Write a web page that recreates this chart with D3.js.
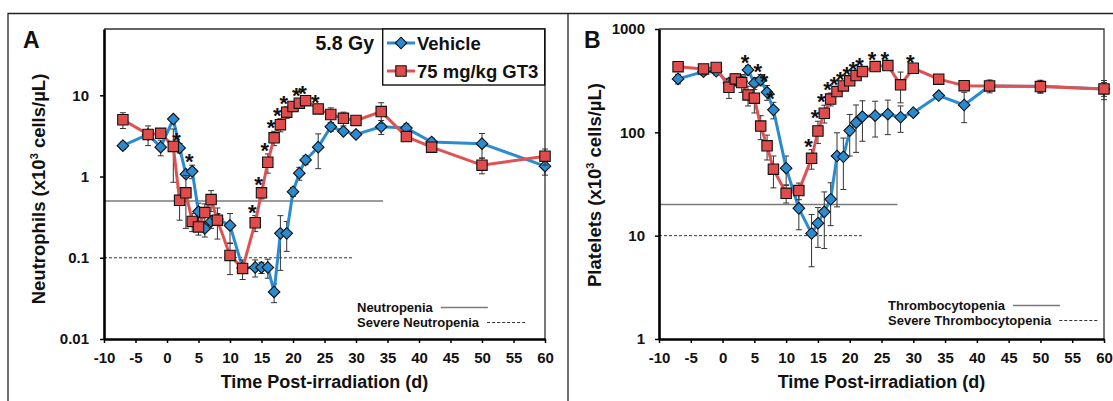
<!DOCTYPE html>
<html>
<head>
<meta charset="utf-8">
<script src="https://cdn.jsdelivr.net/npm/d3@7"></script>
<style>
  body { margin: 0; background: #fff; }
  text { font-family: Arial, "Liberation Sans", sans-serif; font-weight: bold; fill: #111; }
</style>
</head>
<body>
<div id="chart"></div>
<script>
///////////////////////////////////////////////////////////////////////////
// Datos
///////////////////////////////////////////////////////////////////////////
const days = [-7, -3, -1, 1, 2, 3, 4, 5, 6, 7, 8, 10, 12, 14, 15, 16, 17, 18, 19, 20, 21, 22, 24, 26, 28, 30, 34, 38, 42, 50, 60];
const xTicks = [-10, -5, 0, 5, 10, 15, 20, 25, 30, 35, 40, 45, 50, 55, 60];

// Panel A - neutrofilos
const neutVehicle = [2.4, 3.3, 2.3, 5.1, 2.25, 1.07, 1.16, 0.37, 0.23, 0.28, 0.3, 0.25, 0.075, 0.076, 0.076, 0.076, 0.038, 0.2, 0.2, 0.65, 1.1, 1.6, 2.3, 4.1, 3.6, 3.3, 4.1, 3.95, 2.66, 2.54, 1.34];
const neutVehicleErr = [0.25, 0.3, 0.5, 0.4, 0.3, 0.1, 0.22, 0.1, 0.05, 0.05, 0.05, 0.1, 0.01, 0.018, 0.012, 0.02, 0.01, 0.13, 0.08, 0.08, 0.2, 0.2, 1.05, 0.5, 0.3, 0.3, 0.8, 0.5, 0.3, 0.85, 0.3];
const neutGT3 = [5.0, 3.3, 3.4, 2.35, 0.51, 0.63, 0.28, 0.24, 0.36, 0.52, 0.29, 0.107, 0.074, 0.27, 0.63, 1.5, 3.0, 4.35, 6.2, 7.3, 8.0, 8.6, 6.8, 5.8, 5.2, 4.9, 6.3, 3.1, 2.3, 1.38, 1.78];
const neutGT3Err = [1.1, 0.9, 0.3, 1.5, 0.22, 0.4, 0.07, 0.05, 0.1, 0.15, 0.12, 0.045, 0.02, 0.06, 0.1, 0.4, 0.6, 0.8, 1, 1, 1, 0.8, 0.6, 1.2, 1.0, 0.5, 1.8, 0.3, 0.3, 0.3, 0.4];
const neutStarsVehicle = [2, 4];
const neutStarsGT3 = [14, 15, 16, 17, 18, 19, 21, 22, 24];
const neutYTicks = [0.01, 0.1, 1, 10];
const neutThresholds = [0.5, 0.1];
const neutThresholdEnd = [34.3, 29.5];
const neutThresholdNames = ["Neutropenia", "Severe Neutropenia"];

// Panel B - plaquetas
const platVehicle = [329, 387, 390, 300, 320, 310, 402, 299, 322, 244, 165, 45, 18.4, 10.5, 13.2, 17, 22.5, 59, 58, 104, 124, 142, 145, 150, 140, 155, 227, 184, 281, 279, 262];
const platVehicleErr = [35, 30, 30, 30, 30, 30, 40, 40, 40, 40, 30, 14, 7, 5.5, 5.5, 9.5, 10, 40, 30, 45, 60, 60, 55, 55, 40, 10, 15, 60, 40, 40, 55];
const platGT3 = [432, 411, 424, 273, 329, 303, 230, 214, 115, 74, 44, 25.7, 27.3, 56, 103, 153, 210, 248, 281, 315, 354, 387, 433, 443, 288, 417, 327, 283, 281, 277, 263];
const platGT3Err = [40, 40, 40, 60, 40, 60, 50, 60, 30, 20, 15, 5, 5, 12, 25, 30, 30, 20, 20, 20, 20, 20, 40, 30, 95, 20, 20, 15, 20, 35, 40];
const platStarsVehicle = [4, 6, 7, 8];
const platStarsGT3 = [14, 15, 16, 17, 18, 19, 20, 21, 22, 24, 26, 30];
const platYTicks = [1, 10, 100, 1000];
const platThresholds = [20, 10];
const platThresholdEnd = [27.5, 21.9];
const platThresholdNames = ["Thrombocytopenia", "Severe Thrombocytopenia"];

const seriesNames = ["Vehicle", "75 mg/kg GT3"];

///////////////////////////////////////////////////////////////////////////
// Estilo
///////////////////////////////////////////////////////////////////////////
const blue = "#2a8bd0";
const red = "#e05252";
const redFill = "#e04c4c";

const svg = d3.select("#chart")
  .append("svg")
  .attr("width", 1113)
  .attr("height", 401)
  .style("background-color", "#fff");

// Marco exterior
svg.append("path")
  .attr("d", "M8,401 V13.5 H1113 M568,13.5 V401")
  .attr("fill", "none")
  .attr("stroke", "#222")
  .attr("stroke-width", 1.3);

function diamond(s) {
  return `M0,${-s} L${s},0 L0,${s} L${-s},0 Z`;
}

function drawSeries(g, x, y, vals, errs, kind) {
  const yMin = y.domain()[0];
  // barras de error
  const eb = g.append("g");
  days.forEach((d, i) => {
    const lo = Math.max(vals[i] - errs[i], yMin);
    const hi = vals[i] + errs[i];
    const cx = x(d);
    eb.append("line").attr("x1", cx).attr("x2", cx).attr("y1", y(lo)).attr("y2", y(hi));
    eb.append("line").attr("x1", cx - 3).attr("x2", cx + 3).attr("y1", y(lo)).attr("y2", y(lo));
    eb.append("line").attr("x1", cx - 3).attr("x2", cx + 3).attr("y1", y(hi)).attr("y2", y(hi));
  });
  eb.selectAll("line").attr("stroke", "#333").attr("stroke-width", 1);

  const line = d3.line().x((d, i) => x(days[i])).y(d => y(d));
  g.append("path")
    .datum(vals)
    .attr("d", line)
    .attr("fill", "none")
    .attr("stroke", kind === "diamond" ? blue : red)
    .attr("stroke-width", 3)
    .attr("stroke-linejoin", "round");

  const marks = g.append("g").selectAll("path")
    .data(vals)
    .join("path")
    .attr("transform", (d, i) => `translate(${x(days[i])},${y(d)})`)
    .attr("stroke", "#111")
    .attr("stroke-width", 1.1);
  if (kind === "diamond") {
    marks.attr("d", diamond(5.8)).attr("fill", blue);
  } else {
    marks.attr("d", "M-5.2,-5.2 H5.2 V5.2 H-5.2 Z").attr("fill", redFill);
  }
}

function drawStars(g, x, y, vals, errs, starDays) {
  starDays.forEach(d => {
    const i = days.indexOf(d);
    g.append("text")
      .attr("x", x(d) - 3)
      .attr("y", y(vals[i] + errs[i]) + 4)
      .attr("text-anchor", "middle")
      .attr("font-size", "22px")
      .text("*");
  });
}

function drawPanel(p) {
  const g = svg.append("g");
  const x = d3.scaleLinear().domain([-10, 60]).range([p.left, p.right]);
  const y = d3.scaleLog().domain(p.yDomain).range([p.bottom, p.top]);

  // marco del grafico (arriba / derecha)
  g.append("path")
    .attr("d", `M${p.left},${p.top} H${p.right} V${p.bottom}`)
    .attr("fill", "none")
    .attr("stroke", "#333")
    .attr("stroke-width", 1.3);

  // lineas de umbral
  p.thresholds.forEach((t, i) => {
    g.append("line")
      .attr("x1", p.left).attr("x2", x(p.thresholdEnd[i]))
      .attr("y1", y(t)).attr("y2", y(t))
      .attr("stroke", i === 0 ? "#7a7a7a" : "#333")
      .attr("stroke-width", i === 0 ? 1.5 : 1)
      .attr("stroke-dasharray", i === 0 ? null : "3,2");
  });

  // ejes
  const xAxis = g.append("g")
    .attr("transform", `translate(0,${p.bottom})`)
    .call(d3.axisBottom(x).tickValues(xTicks).tickFormat(d => String(d)).tickSize(4).tickSizeOuter(0).tickPadding(9.5));
  const yAxis = g.append("g")
    .attr("transform", `translate(${p.left},0)`)
    .call(d3.axisLeft(y).tickValues(p.yTicks).tickFormat(p.yFormat).tickSize(4).tickSizeOuter(0).tickPadding(p.yPad));
  [xAxis, yAxis].forEach(a => {
    a.select(".domain").attr("stroke", "#000").attr("stroke-width", 2.6);
    a.selectAll(".tick line").attr("stroke", "#000").attr("stroke-width", 1.5);
    a.selectAll("text").attr("font-size", "15px").attr("font-family", "Arial, 'Liberation Sans', sans-serif").attr("fill", "#111");
  });

  // series
  drawSeries(g, x, y, p.vehicle, p.vehicleErr, "diamond");
  drawSeries(g, x, y, p.gt3, p.gt3Err, "square");
  drawStars(g, x, y, p.vehicle, p.vehicleErr, p.starsVehicle);
  drawStars(g, x, y, p.gt3, p.gt3Err, p.starsGT3);

  // leyenda de umbrales
  p.thresholdNames.forEach((name, i) => {
    const ty = p.legY + i * 15;
    const t = g.append("text")
      .attr("x", p.legX)
      .attr("y", ty)
      .attr("font-size", "13px")
      .text(name);
    const w = t.node().getComputedTextLength();
    g.append("line")
      .attr("x1", p.legX + w + 8).attr("x2", p.legX + w + (i === 0 ? 55 : 46))
      .attr("y1", ty - 4.5).attr("y2", ty - 4.5)
      .attr("stroke", i === 0 ? "#7a7a7a" : "#333")
      .attr("stroke-width", i === 0 ? 1.5 : 1)
      .attr("stroke-dasharray", i === 0 ? null : "3,2");
  });

  // letra del panel
  g.append("text")
    .attr("x", p.letterX)
    .attr("y", 48)
    .attr("font-size", "23px")
    .text(p.letter);

  // titulo eje y
  const yt = g.append("text")
    .attr("transform", `translate(${p.yTitleX},${p.yTitleY}) rotate(-90)`)
    .attr("text-anchor", "middle")
    .attr("font-size", "18.5px");
  yt.append("tspan").text(p.yTitle + " (x10");
  yt.append("tspan").attr("font-size", "11px").attr("dy", -7).text("3");
  yt.append("tspan").attr("dy", 7).text(" cells/µL)");

  // titulo eje x
  g.append("text")
    .attr("x", (p.left + p.right) / 2)
    .attr("y", 388)
    .attr("text-anchor", "middle")
    .attr("font-size", "18px")
    .text("Time Post-irradiation (d)");

  return { g, x, y };
}

///////////////////////////////////////////////////////////////////////////
// Panel A
///////////////////////////////////////////////////////////////////////////
const panelA = drawPanel({
  left: 104, right: 545, top: 29, bottom: 339,
  yDomain: [0.01, 65.5], yTicks: neutYTicks, yFormat: d => String(d), yPad: 11,
  vehicle: neutVehicle, vehicleErr: neutVehicleErr,
  gt3: neutGT3, gt3Err: neutGT3Err,
  starsVehicle: neutStarsVehicle, starsGT3: neutStarsGT3,
  thresholds: neutThresholds, thresholdEnd: neutThresholdEnd, thresholdNames: neutThresholdNames,
  legX: 357, legY: 312,
  letter: "A", letterX: 23,
  yTitle: "Neutrophils", yTitleX: 45, yTitleY: 189
});

// Caja de leyenda y dosis
const legG = panelA.g.append("g");
legG.append("rect")
  .attr("x", 382.7).attr("y", 29)
  .attr("width", 162).attr("height", 56)
  .attr("fill", "#fff")
  .attr("stroke", "#111")
  .attr("stroke-width", 1.4);
seriesNames.forEach((name, i) => {
  const ly = 43 + i * 28;
  legG.append("line")
    .attr("x1", 387).attr("x2", 415).attr("y1", ly).attr("y2", ly)
    .attr("stroke", i === 0 ? blue : red).attr("stroke-width", 3);
  legG.append("path")
    .attr("transform", `translate(401,${ly})`)
    .attr("d", i === 0 ? diamond(5.8) : "M-5.2,-5.2 H5.2 V5.2 H-5.2 Z")
    .attr("fill", i === 0 ? blue : redFill)
    .attr("stroke", "#111").attr("stroke-width", 1.1);
  legG.append("text")
    .attr("x", 417).attr("y", ly + 6.5)
    .attr("font-size", "18.5px")
    .text(name);
});
panelA.g.append("text")
  .attr("x", 315.5).attr("y", 50)
  .attr("font-size", "19.5px")
  .text("5.8 Gy");

///////////////////////////////////////////////////////////////////////////
// Panel B
///////////////////////////////////////////////////////////////////////////
drawPanel({
  left: 659, right: 1104, top: 29, bottom: 339,
  yDomain: [1, 1000], yTicks: platYTicks, yFormat: d => String(d), yPad: 10,
  vehicle: platVehicle, vehicleErr: platVehicleErr,
  gt3: platGT3, gt3Err: platGT3Err,
  starsVehicle: platStarsVehicle, starsGT3: platStarsGT3,
  thresholds: platThresholds, thresholdEnd: platThresholdEnd, thresholdNames: platThresholdNames,
  legX: 888, legY: 310,
  letter: "B", letterX: 584,
  yTitle: "Platelets", yTitleX: 601, yTitleY: 185
});
</script>
</body>
</html>
